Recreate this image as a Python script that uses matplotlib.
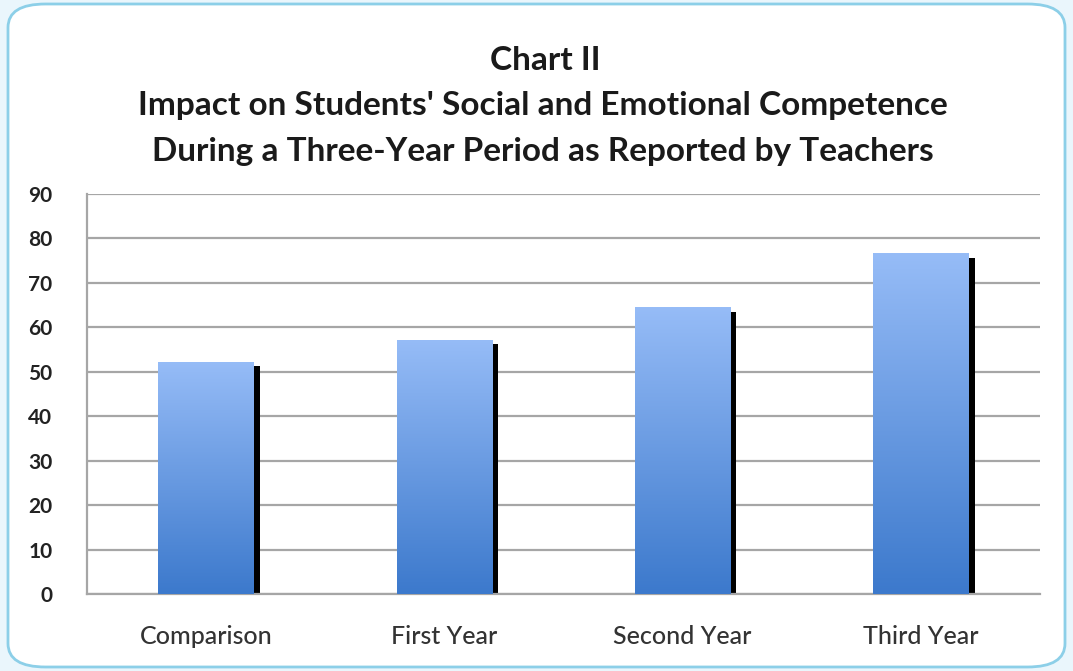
import numpy as np
from matplotlib import pyplot as plt
from matplotlib.patches import FancyBboxPatch

categories = ['Comparison', 'First Year', 'Second Year', 'Third Year']
values = [52.3, 57.2, 64.5, 76.7]
yticks = [0, 10, 20, 30, 40, 50, 60, 70, 80, 90]

plt.rcParams['font.family'] = ['Lato', 'DejaVu Sans']

fig = plt.figure(figsize=(10.73, 6.71), dpi=100)
fig.patch.set_facecolor('#eaf6fc')

# rounded white panel with light blue border
panel = FancyBboxPatch((8 / 1073, 4 / 671), 1057 / 1073, 663 / 671,
                       boxstyle='round,pad=0,rounding_size=0.035',
                       transform=fig.transFigure, facecolor='white',
                       edgecolor='#8ccfe8', linewidth=2, zorder=0)
fig.patches.append(panel)

ax = fig.add_axes([87 / 1073, (671 - 594) / 671, 953 / 1073, 400 / 671])
ax.set_zorder(2)
ax.set_facecolor('none')

x = np.arange(len(categories))
width = 0.4

# black shadow on the right side of each bar
ax.bar(x + width / 2 + 0.013, np.array(values) - 1, width=0.026,
       color='black', zorder=2)

# gradient filled bars
grad = np.linspace(0, 1, 256).reshape(-1, 1)
cmap = plt.matplotlib.colors.LinearSegmentedColormap.from_list(
    'bar', ['#3c79cc', '#96bcf7'])
bars = ax.bar(x, values, width=width, color='none', zorder=3)
for b in bars:
    bx, by = b.get_x(), b.get_y()
    im = ax.imshow(grad, extent=[bx, bx + b.get_width(), by, by + b.get_height()],
                   origin='lower', cmap=cmap, aspect='auto', zorder=3)
    im.set_clip_path(b)
ax.set_xlim(-0.5, len(categories) - 0.5)
ax.set_ylim(0, 90)

ax.set_yticks(yticks)
ax.yaxis.grid(True, color='#a6a6a6', linewidth=1.6)
ax.set_axisbelow(True)
ax.tick_params(axis='y', length=0, pad=25, labelsize=15, labelcolor='#222222')
ax.tick_params(axis='x', length=0, pad=22, labelsize=18, labelcolor='#333333')
ax.set_xticks(x)
ax.set_xticklabels(categories)
for lab in ax.get_yticklabels():
    lab.set_fontweight('bold')
for lab in ax.get_xticklabels():
    lab.set_fontweight('medium')
for s in ['top', 'right']:
    ax.spines[s].set_visible(False)
for s in ['left', 'bottom']:
    ax.spines[s].set_color('#a6a6a6')
    ax.spines[s].set_linewidth(1.6)

fig.text(545 / 1073, 1 - 60 / 671, 'Chart II', ha='center', va='center',
         fontsize=24, fontweight='bold', color='#1a1a1a')
fig.text(543 / 1073, 1 - 105 / 671,
         "Impact on Students' Social and Emotional Competence",
         ha='center', va='center', fontsize=24, fontweight='bold', color='#1a1a1a')
fig.text(543 / 1073, 1 - 152 / 671,
         'During a Three-Year Period as Reported by Teachers',
         ha='center', va='center', fontsize=24, fontweight='bold', color='#1a1a1a')

fig.savefig('out.png', dpi=100)
